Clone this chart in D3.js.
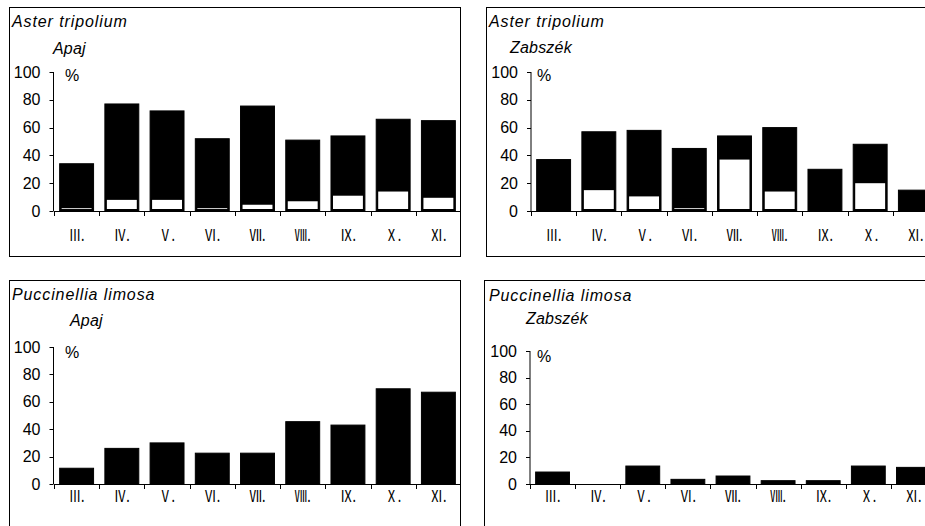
<!DOCTYPE html>
<html>
<head>
<meta charset="utf-8">
<script src="https://cdn.jsdelivr.net/npm/d3@7"></script>
<style>
  html, body { margin: 0; padding: 0; background: #fff; }
  svg { display: block; }
  text { font-family: "Liberation Sans", Arial, sans-serif; fill: #000; }
</style>
</head>
<body>
<svg id="chart" width="925" height="526"></svg>
<script>
// ---- data ----
const months = ["Ⅲ.", "Ⅳ.", "Ⅴ.", "Ⅵ.", "Ⅶ.", "Ⅷ.", "Ⅸ.", "Ⅹ.", "Ⅺ."];
const yTicks = [0, 20, 40, 60, 80, 100];

const asterApajTotal = [34, 77, 72, 52, 75.5, 51, 54, 66, 65];
const asterApajWhite = [2, 8, 8, 2, 4.5, 7, 11, 14, 9.5];

const asterZabTotal = [37, 57, 58, 45, 54, 60, 30, 48, 15];
const asterZabWhite = [0, 15, 10.5, 2, 37, 14, 0, 20, 0];

const puccApajTotal = [11.5, 26, 30, 22.5, 22.5, 45.5, 43, 69.5, 67];
const puccApajWhite = [0, 0, 0, 0, 0, 0, 0, 0, 0];

const puccZabTotal = [9, 0, 13.5, 3.5, 6, 2.5, 2.5, 13.5, 12.5];
const puccZabWhite = [0, 0, 0, 0, 0, 0, 0, 0, 0];

const speciesNames = ["Aster tripolium", "Aster tripolium", "Puccinellia limosa", "Puccinellia limosa"];
const siteNames = ["Apaj", "Zabszék", "Apaj", "Zabszék"];

// ---- layout (positions only) ----
const panels = [
  { total: asterApajTotal, white: asterApajWhite, species: speciesNames[0], site: siteNames[0],
    box: [9, 7, 460, 256], ax: 53.5, xr: [54, 461], base: 211, top: 72,
    title: [12, 27], siteXY: [53, 54], pct: [65, 81], labDy: 30 },
  { total: asterZabTotal, white: asterZabWhite, species: speciesNames[1], site: siteNames[1],
    box: [486, 7, 945, 256], ax: 531, xr: [531, 938], base: 211, top: 72,
    title: [489, 27], siteXY: [510, 53], pct: [537, 81], labDy: 30 },
  { total: puccApajTotal, white: puccApajWhite, species: speciesNames[2], site: siteNames[2],
    box: [9, 280, 460, 545], ax: 53.5, xr: [54, 461], base: 484, top: 347,
    title: [12, 300], siteXY: [70, 326], pct: [65, 358], labDy: 18 },
  { total: puccZabTotal, white: puccZabWhite, species: speciesNames[3], site: siteNames[3],
    box: [484, 280, 945, 545], ax: 530, xr: [530, 936], base: 484, top: 351,
    title: [489, 301], siteXY: [526, 324], pct: [537, 362], labDy: 18 }
];

const svg = d3.select("#chart");

panels.forEach(p => {
  const g = svg.append("g");
  const [bx0, by0, bx1, by1] = p.box;

  g.append("rect")
    .attr("x", bx0 + 0.5).attr("y", by0 + 0.5)
    .attr("width", bx1 - bx0).attr("height", by1 - by0)
    .attr("fill", "#fff").attr("stroke", "#000").attr("stroke-width", 1);

  const x = d3.scaleBand().domain(months).range(p.xr).paddingInner(0.25).paddingOuter(0.125);
  const y = d3.scaleLinear().domain([0, 100]).range([p.base, p.top]);

  // black bars (total)
  g.append("g").selectAll("rect")
    .data(months.map((m, i) => ({ m, v: p.total[i] })).filter(d => d.v > 0))
    .join("rect")
    .attr("x", d => x(d.m))
    .attr("y", d => y(d.v))
    .attr("width", x.bandwidth())
    .attr("height", d => y(0) - y(d.v))
    .attr("fill", "#000").attr("stroke", "#000").attr("stroke-width", 1);

  // white bars (overlay)
  g.append("g").selectAll("rect")
    .data(months.map((m, i) => ({ m, v: p.white[i] })).filter(d => d.v > 0))
    .join("rect")
    .attr("x", d => x(d.m) + 2)
    .attr("y", d => y(d.v))
    .attr("width", x.bandwidth() - 4)
    .attr("height", d => Math.max(0.8, y(0) - 2 - y(d.v)))
    .attr("fill", "#fff");

  // y axis (manual, using the scale)
  const ya = g.append("g");
  ya.append("line")
    .attr("x1", p.ax).attr("x2", p.ax)
    .attr("y1", y(0)).attr("y2", y(100))
    .attr("stroke", "#000");
  ya.selectAll("line.tk").data(yTicks).join("line").attr("class", "tk")
    .attr("x1", p.ax - 4).attr("x2", p.ax)
    .attr("y1", d => Math.round(y(d)) + 0.5).attr("y2", d => Math.round(y(d)) + 0.5)
    .attr("stroke", "#000");
  ya.selectAll("text").data(yTicks).join("text")
    .attr("x", p.ax - 13)
    .attr("y", d => y(d) + 5.5)
    .attr("text-anchor", "end")
    .style("font-size", "16px")
    .text(d => d);

  // x axis baseline with ticks at category boundaries
  const xa = g.append("g");
  xa.append("line")
    .attr("x1", p.xr[0]).attr("x2", p.xr[1])
    .attr("y1", y(0) + 0.5).attr("y2", y(0) + 0.5)
    .attr("stroke", "#000");
  const bounds = months.map(m => x(m) - x.step() * x.paddingInner() / 2);
  xa.selectAll("line.tk").data(bounds).join("line").attr("class", "tk")
    .attr("x1", d => Math.round(d) + 0.5).attr("x2", d => Math.round(d) + 0.5)
    .attr("y1", y(0)).attr("y2", y(0) + 5)
    .attr("stroke", "#000");
  xa.selectAll("text").data(months).join("text")
    .attr("transform", d => `translate(${x(d) + x.bandwidth() / 2},${y(0) + p.labDy}) scale(0.78,1)`)
    .attr("text-anchor", "middle")
    .style("font-size", "16px")
    .style("font-family", "'Noto Sans CJK JP', 'Liberation Sans', sans-serif")
    .text(d => d);

  // texts
  g.append("text").attr("x", p.title[0]).attr("y", p.title[1])
    .style("font-size", "16px").style("font-style", "italic").style("letter-spacing", "0.9px")
    .text(p.species);
  g.append("text").attr("x", p.siteXY[0]).attr("y", p.siteXY[1])
    .style("font-size", "16px").style("font-style", "italic").style("letter-spacing", "0.2px")
    .text(p.site);
  g.append("text").attr("x", p.pct[0]).attr("y", p.pct[1])
    .style("font-size", "16px")
    .text("%");
});
</script>
</body>
</html>
